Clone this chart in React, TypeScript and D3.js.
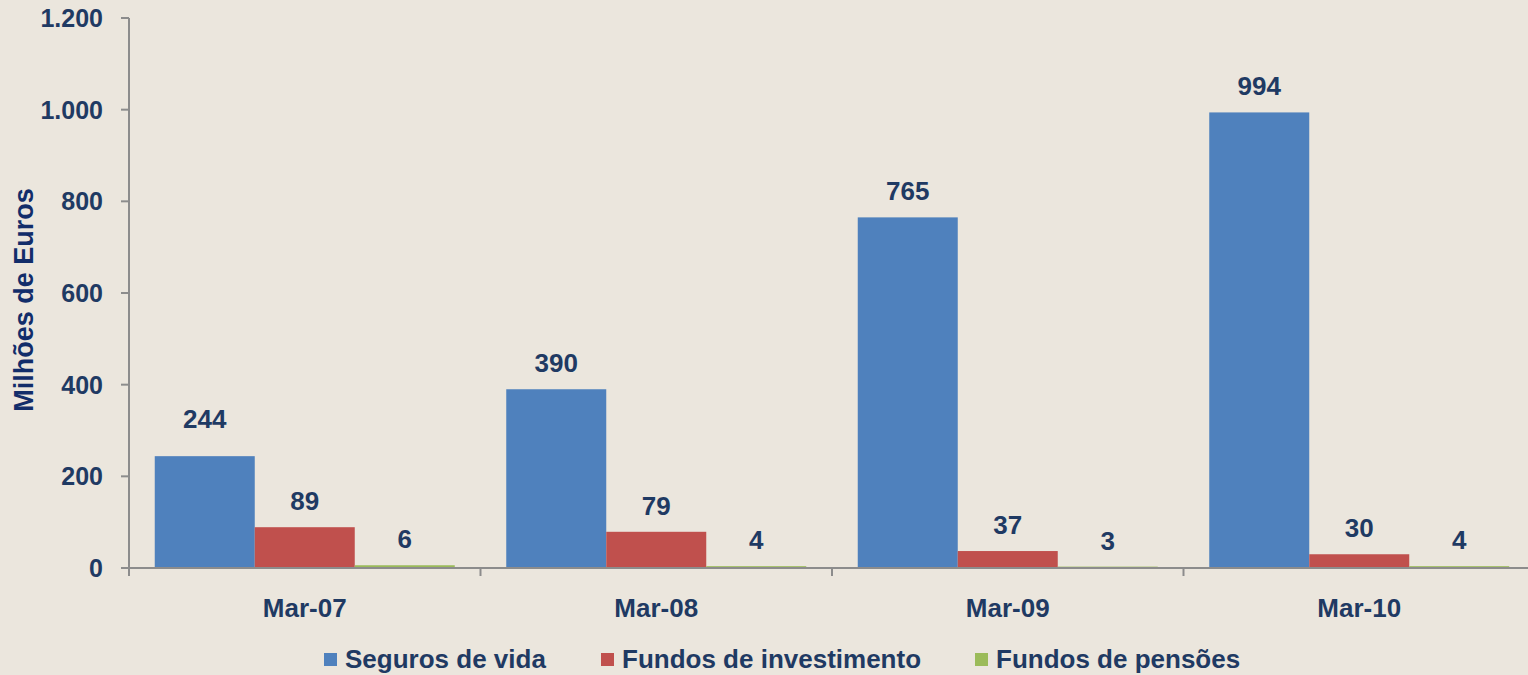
import * as d3 from "d3";

const width = 1528;
const height = 675;

const categories = ["Mar-07", "Mar-08", "Mar-09", "Mar-10"];
const seriesNames = ["Seguros de vida", "Fundos de investimento", "Fundos de pensões"];
const segurosVida = [244, 390, 765, 994];
const fundosInvestimento = [89, 79, 37, 30];
const fundosPensoes = [6, 4, 3, 4];
const yTicks = [0, 200, 400, 600, 800, 1000, 1200];

const colors = ["#4F81BD", "#C0504D", "#9BBB59"];
const textColor = "#1F3A63";
const axisColor = "#8C8C8C";
const font = "'Liberation Sans', Arial, sans-serif";

const margin = { left: 129, top: 18, bottom: 568 };

const fmt = (v: number) => d3.format(",")(v).replace(/,/g, ".");

const App = () => {
  const values = [segurosVida, fundosInvestimento, fundosPensoes];

  const x0 = d3.scaleBand().domain(categories).range([margin.left, margin.left + 351.5 * 4]);
  const x1 = d3
    .scaleBand()
    .domain(seriesNames)
    .range([0, x0.bandwidth()])
    .paddingInner(0)
    .paddingOuter(0.2575);
  const y = d3.scaleLinear().domain([0, 1200]).range([margin.bottom, margin.top]);

  // the first label sits higher in the original
  const nudge = (s: number, i: number) => (s === 0 && i === 0 ? 11 : 0);

  const legendItems = [
    { x: 324, text: seriesNames[0] },
    { x: 601, text: seriesNames[1] },
    { x: 975, text: seriesNames[2] },
  ];

  return (
    <svg
      width={width}
      height={height}
      style={{ position: "absolute", left: 0, top: 0, background: "#EBE6DD" }}
      fontFamily={font}
      fontWeight="bold"
    >
      <rect width={width} height={height} fill="#EBE6DD" />

      {/* bars */}
      {values.map((vals, s) =>
        categories.map((c, i) => (
          <rect
            key={`${s}-${i}`}
            x={(x0(c) ?? 0) + (x1(seriesNames[s]) ?? 0)}
            y={y(vals[i])}
            width={x1.bandwidth()}
            height={y(0) - y(vals[i])}
            fill={colors[s]}
          />
        ))
      )}

      {/* value labels */}
      {values.map((vals, s) =>
        categories.map((c, i) => (
          <text
            key={`l-${s}-${i}`}
            x={(x0(c) ?? 0) + (x1(seriesNames[s]) ?? 0) + x1.bandwidth() / 2}
            y={y(vals[i]) - 17 - nudge(s, i)}
            textAnchor="middle"
            fontSize={26}
            fill={textColor}
          >
            {vals[i]}
          </text>
        ))
      )}

      {/* y axis */}
      <line x1={margin.left} x2={margin.left} y1={margin.top} y2={margin.bottom} stroke={axisColor} strokeWidth={2} />
      {yTicks.map((t) => (
        <g key={t}>
          <line x1={margin.left - 8} x2={margin.left} y1={y(t)} y2={y(t)} stroke={axisColor} strokeWidth={2} />
          <text x={103} y={y(t)} dy="0.36em" textAnchor="end" fontSize={25} fill={textColor}>
            {fmt(t)}
          </text>
        </g>
      ))}

      {/* x axis */}
      <line x1={margin.left} x2={width} y1={margin.bottom} y2={margin.bottom} stroke={axisColor} strokeWidth={2} />
      {categories.map((c) => (
        <line
          key={`t-${c}`}
          x1={x0(c)}
          x2={x0(c)}
          y1={margin.bottom}
          y2={margin.bottom + 8}
          stroke={axisColor}
          strokeWidth={2}
        />
      ))}
      {categories.map((c) => (
        <text
          key={`c-${c}`}
          x={(x0(c) ?? 0) + x0.bandwidth() / 2}
          y={617}
          textAnchor="middle"
          fontSize={26}
          fill={textColor}
        >
          {c}
        </text>
      ))}

      {/* y title */}
      <text
        transform={`translate(33, ${(margin.top + margin.bottom) / 2 + 7}) rotate(-90)`}
        textAnchor="middle"
        fontSize={27}
        fill="#122D6A"
      >
        Milhões de Euros
      </text>

      {/* legend */}
      {legendItems.map((l, i) => (
        <g key={l.text}>
          <rect x={l.x} y={653} width={13} height={13} fill={colors[i]} />
          <text x={l.x + 21} y={668} fontSize={26} fill={textColor}>
            {l.text}
          </text>
        </g>
      ))}
    </svg>
  );
};

export default App;
